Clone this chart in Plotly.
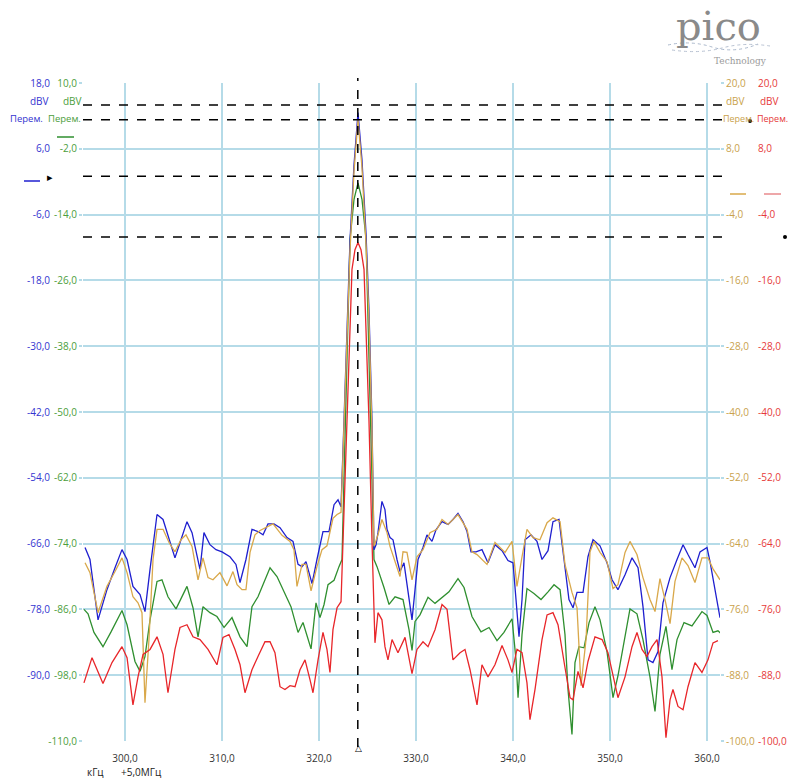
import plotly.graph_objects as go

# ---------------- data (frequency offset in kHz, level in dBV) ----------------
blue_khz = [
    295.88, 296.39, 297.22, 298.14, 298.97, 299.69, 300.21, 300.82, 301.55, 302.06,
    302.58, 303.30, 303.92, 304.54, 305.15, 305.77, 306.39, 306.91, 307.73, 308.14,
    308.76, 309.38, 310.00, 310.82, 311.44, 311.86, 312.47, 313.09, 313.71, 314.23,
    314.74, 315.36, 315.98, 316.70, 317.32, 317.84, 318.25, 318.66, 319.28, 319.79,
    320.41, 321.03, 321.55, 321.96, 322.27, 322.58, 322.89, 323.20, 323.61, 324.02,
    324.43, 324.85, 325.15, 325.46, 325.67, 325.88, 326.08, 326.49, 326.80, 327.01,
    327.32, 327.63, 328.04, 328.35, 328.76, 329.18, 329.59, 329.90, 330.21, 330.72,
    331.13, 331.65, 332.06, 332.68, 333.30, 333.81, 334.33, 334.85, 335.26, 335.67,
    336.19, 336.80, 337.42, 338.14, 338.87, 339.48, 340.00, 340.31, 340.62, 340.93,
    341.24, 341.86, 342.47, 342.99, 343.61, 344.12, 344.74, 345.26, 345.77, 346.19,
    346.60, 347.22, 347.73, 348.25, 348.97, 349.69, 350.21, 350.82, 351.55, 352.27,
    352.89, 353.40, 353.92, 354.43, 354.95, 355.46, 356.19, 356.91, 357.53, 358.04,
    358.76, 359.28, 360.00, 360.31, 360.82, 361.34]
blue_dbv = [
    -66.7, -68.9, -79.9, -74.4, -70.4, -67.1, -68.9, -73.8, -75.3, -78.4,
    -70.7, -60.7, -61.6, -65.3, -68.6, -65.3, -62.0, -64.0, -70.7, -64.0,
    -66.2, -67.1, -67.5, -68.4, -69.8, -73.1, -68.9, -63.4, -63.8, -64.4,
    -62.4, -62.4, -63.1, -64.9, -65.6, -69.8, -70.2, -69.3, -73.3, -68.9,
    -63.8, -63.8, -58.9, -58.0, -59.3, -43.4, -25.1, -10.6, 3.1, 12.6,
    4.0, -9.6, -23.3, -43.4, -67.1, -66.2, -64.0, -58.3, -59.8, -63.4,
    -64.9, -65.3, -68.9, -71.1, -69.5, -74.4, -79.9, -74.4, -68.9, -66.7,
    -64.4, -65.6, -63.5, -62.0, -62.5, -61.6, -60.5, -62.0, -63.8, -67.5,
    -67.5, -67.1, -69.5, -66.2, -67.3, -69.1, -69.5, -76.2, -83.0, -76.2,
    -65.3, -64.4, -65.6, -68.9, -67.3, -62.0, -61.6, -68.9, -76.2, -77.7,
    -74.9, -74.9, -68.4, -65.3, -66.4, -69.5, -72.6, -74.4, -71.7, -68.6,
    -70.4, -77.5, -87.2, -87.7, -85.7, -76.8, -72.2, -68.9, -66.2, -68.0,
    -70.4, -67.5, -66.7, -69.3, -74.4, -79.5]

gold_khz = [
    295.88, 296.39, 297.22, 298.14, 298.97, 299.69, 300.21, 300.82, 301.34, 301.75,
    302.06, 302.47, 302.89, 303.30, 303.92, 304.54, 305.15, 305.77, 306.29, 306.91,
    307.53, 308.04, 308.56, 309.07, 309.79, 310.52, 311.13, 311.55, 312.06, 312.47,
    312.89, 313.40, 313.92, 314.64, 315.26, 316.19, 317.01, 317.42, 317.73, 318.25,
    318.66, 319.18, 319.79, 320.31, 320.82, 321.44, 321.86, 322.27, 322.58, 322.89,
    323.20, 323.61, 324.02, 324.43, 324.85, 325.15, 325.46, 325.67, 326.08, 326.49,
    327.01, 327.32, 327.84, 328.35, 328.66, 329.07, 329.59, 330.10, 330.72, 331.44,
    332.16, 332.68, 333.30, 334.33, 335.26, 335.77, 336.29, 337.32, 338.14, 339.18,
    339.90, 340.41, 340.93, 341.44, 342.06, 342.78, 343.51, 344.12, 344.85, 345.36,
    346.08, 346.60, 347.01, 347.53, 347.94, 348.35, 348.97, 349.69, 350.31, 350.82,
    351.55, 352.06, 352.78, 353.40, 354.12, 354.64, 355.15, 355.67, 356.19, 356.70,
    357.42, 358.04, 358.76, 359.48, 360.10, 360.62, 361.34]
gold_dbv = [
    -67.5, -69.3, -76.6, -71.8, -69.1, -66.6, -69.3, -73.7, -74.8, -76.6,
    -93.0, -81.5, -66.9, -61.4, -61.4, -63.8, -65.5, -63.3, -62.4, -64.5,
    -70.6, -66.6, -70.2, -70.6, -69.3, -71.7, -69.1, -71.5, -72.4, -72.4,
    -65.6, -62.4, -61.6, -60.9, -60.4, -62.5, -63.6, -65.1, -71.8, -67.8,
    -67.8, -72.6, -68.2, -65.1, -64.4, -59.4, -58.7, -58.3, -43.2, -25.0,
    -10.4, 3.9, 13.3, 4.6, -9.5, -23.1, -43.2, -64.5, -62.4, -59.6,
    -62.0, -64.5, -67.5, -70.0, -65.5, -65.6, -70.6, -66.4, -65.1, -62.0,
    -61.4, -59.6, -60.5, -58.7, -61.4, -65.5, -66.0, -67.8, -63.8, -65.6,
    -63.6, -71.8, -66.4, -61.4, -62.9, -63.3, -60.2, -59.3, -60.0, -67.8,
    -72.9, -75.7, -89.9, -81.5, -65.5, -63.6, -65.6, -67.3, -72.2, -71.5,
    -65.6, -63.6, -66.0, -70.2, -74.2, -76.4, -70.4, -74.2, -78.6, -70.9,
    -66.6, -68.0, -71.1, -66.6, -66.6, -68.6, -70.6]

green_khz = [
    295.77, 296.19, 296.80, 297.73, 298.56, 299.69, 300.21, 301.03, 301.55, 302.06,
    302.58, 303.30, 303.81, 304.43, 305.26, 306.39, 307.01, 307.53, 308.04, 308.76,
    309.48, 310.21, 311.03, 311.86, 312.58, 313.09, 313.71, 314.43, 314.95, 315.67,
    316.39, 317.11, 317.84, 318.35, 319.18, 319.69, 320.10, 320.52, 320.93, 321.55,
    322.06, 322.37, 322.78, 323.20, 323.61, 324.02, 324.43, 324.85, 325.26, 325.67,
    325.98, 326.29, 326.70, 327.22, 327.84, 328.66, 329.28, 329.59, 329.90, 330.41,
    331.24, 331.96, 332.68, 333.40, 334.33, 334.95, 335.77, 336.70, 337.53, 338.35,
    339.07, 339.90, 340.31, 340.52, 340.93, 341.44, 342.16, 342.89, 343.61, 344.23,
    344.85, 345.36, 345.67, 346.08, 346.39, 346.80, 347.32, 347.84, 348.45, 348.97,
    349.69, 350.31, 350.82, 351.44, 352.06, 352.78, 353.40, 354.12, 354.64, 355.15,
    355.77, 356.39, 356.91, 357.63, 358.45, 359.48, 360.00, 360.62, 361.13, 361.44]
green_dbv = [
    -86.0, -86.8, -90.2, -92.8, -90.1, -86.2, -88.8, -95.5, -97.3, -94.6,
    -87.9, -80.9, -80.6, -83.7, -85.9, -81.8, -85.7, -91.0, -85.5, -86.6,
    -87.3, -89.3, -87.5, -91.0, -92.8, -85.5, -83.7, -80.6, -78.4, -80.0,
    -82.8, -85.5, -90.2, -88.4, -93.2, -84.8, -87.5, -85.1, -81.5, -80.7,
    -78.2, -76.9, -47.7, -18.5, -11.2, -8.2, -11.2, -18.5, -47.7, -76.9,
    -78.2, -79.7, -82.0, -85.1, -83.7, -84.2, -89.7, -93.5, -88.2, -87.0,
    -83.8, -84.9, -83.8, -82.8, -80.4, -82.0, -87.3, -90.1, -89.3, -91.7,
    -90.2, -87.7, -95.2, -102.1, -90.6, -82.2, -83.1, -84.2, -82.8, -81.5,
    -82.4, -90.6, -100.6, -108.8, -95.7, -92.8, -93.0, -88.4, -85.5, -87.9,
    -93.7, -102.1, -98.1, -92.1, -85.9, -86.8, -91.5, -98.3, -104.6, -94.2,
    -89.1, -97.0, -91.5, -88.4, -89.0, -86.4, -87.1, -90.2, -89.9, -90.4]

red_khz = [
    295.77, 296.60, 297.73, 298.66, 299.69, 300.21, 300.82, 301.34, 301.86, 302.58,
    303.30, 303.92, 304.43, 305.15, 305.67, 306.39, 307.01, 307.73, 308.56, 309.48,
    310.10, 310.72, 311.34, 311.86, 312.37, 313.09, 313.71, 314.43, 314.95, 315.46,
    315.98, 316.49, 317.01, 317.53, 318.04, 318.56, 319.07, 319.38, 319.90, 320.41,
    320.82, 321.13, 321.44, 321.86, 322.27, 322.58, 322.89, 323.40, 323.71, 324.02,
    324.33, 324.64, 325.15, 325.46, 325.77, 326.08, 326.49, 326.80, 327.11, 327.53,
    328.14, 328.87, 329.59, 330.10, 330.72, 331.24, 331.96, 332.68, 333.20, 333.81,
    334.54, 335.05, 335.57, 336.29, 336.80, 337.42, 338.14, 338.87, 339.48, 339.90,
    340.41, 340.93, 341.44, 341.75, 342.27, 342.99, 343.51, 344.12, 344.64, 345.36,
    345.88, 346.19, 346.70, 347.22, 347.73, 348.45, 349.18, 349.79, 350.52, 350.82,
    351.55, 352.27, 352.78, 353.30, 353.81, 354.33, 354.85, 355.36, 355.77, 356.19,
    356.49, 357.01, 357.53, 358.04, 358.76, 359.48, 360.10, 360.62, 361.13]
red_dbv = [
    -89.4, -84.8, -89.5, -85.7, -82.8, -84.8, -93.4, -88.3, -84.2, -83.3,
    -81.0, -84.2, -91.2, -83.3, -79.3, -78.8, -81.0, -81.5, -83.3, -86.1,
    -81.1, -80.6, -83.3, -86.1, -91.2, -87.0, -84.6, -81.9, -81.9, -83.9,
    -90.1, -90.6, -89.9, -90.1, -87.0, -85.2, -88.8, -91.2, -85.2, -80.2,
    -83.3, -87.5, -79.7, -75.7, -74.6, -59.6, -41.4, -14.0, -10.4, -9.1,
    -10.4, -14.0, -41.4, -63.3, -82.1, -76.6, -77.9, -82.8, -85.2, -81.5,
    -83.9, -81.1, -87.7, -83.3, -81.9, -82.8, -79.7, -75.1, -76.0, -85.2,
    -83.9, -83.3, -87.0, -93.4, -86.1, -88.3, -86.1, -82.6, -85.2, -87.5,
    -83.3, -83.9, -89.4, -96.1, -90.6, -81.5, -77.0, -76.6, -78.8, -86.6,
    -92.1, -92.5, -87.3, -90.3, -85.5, -81.0, -81.5, -83.9, -89.4, -92.1,
    -88.3, -82.8, -80.2, -83.3, -84.6, -82.8, -81.5, -88.3, -99.4, -92.5,
    -90.6, -93.7, -94.3, -90.1, -85.7, -87.5, -85.2, -82.1, -81.7]

# axis ticks
x_ticks = [300, 310, 320, 330, 340, 350, 360]
blue_ticks = [18, 6, -6, -18, -30, -42, -54, -66, -78, -90]
green_ticks = [10, -2, -14, -26, -38, -50, -62, -74, -86, -98, -110]
gold_ticks = [20, 8, -4, -16, -28, -40, -52, -64, -76, -88, -100]
red_ticks = [20, 8, -4, -16, -28, -40, -52, -64, -76, -88, -100]

# cursor positions
marker_khz = 324.0
ruler_levels_green = [6.0, 3.3, -7.0, -18.1]


def lab(v):
    return f"{v:.1f}".replace(".", ",")


# ---------------- style ----------------
W, H = 788, 783
L, R, T, B = 83, 720, 83, 741           # plot area in pixels
BLUE, GREEN, GOLD, RED = "#1f1fcf", "#2f8f2f", "#d9a84a", "#e8262a"
BLUE_T, GREEN_T, GOLD_T, RED_T = "#3434d0", "#4c9e3c", "#c9a24c", "#e63a3a"
GRID = "#b5dbe8"
FONT = "Open Sans"


def px(xp):
    return xp / W


def py(yp):
    return (B - yp) / (B - T)


fig = go.Figure()
fig.add_trace(go.Scatter(x=gold_khz, y=gold_dbv, yaxis="y3", mode="lines",
                         line=dict(color=GOLD, width=1.3)))
fig.add_trace(go.Scatter(x=green_khz, y=green_dbv, yaxis="y", mode="lines",
                         line=dict(color=GREEN, width=1.3)))
fig.add_trace(go.Scatter(x=red_khz, y=red_dbv, yaxis="y4", mode="lines",
                         line=dict(color=RED, width=1.3)))
fig.add_trace(go.Scatter(x=blue_khz, y=blue_dbv, yaxis="y2", mode="lines",
                         line=dict(color=BLUE, width=1.3)))

tf = dict(family=FONT, size=10)
fig.update_layout(
    width=W, height=H, showlegend=False,
    paper_bgcolor="white", plot_bgcolor="white",
    margin=dict(l=0, r=0, t=T, b=H - B, autoexpand=False),
    font=dict(family=FONT, size=10, color="#333"),
    xaxis=dict(domain=[px(L), px(R)], range=[295.67, 361.34],
               tickvals=x_ticks, ticktext=[lab(v) for v in x_ticks],
               showgrid=True, gridcolor=GRID, gridwidth=1.5, zeroline=False,
               showline=False, ticks="outside", ticklen=8,
               tickcolor="rgba(0,0,0,0)", tickfont=dict(tf, color="#333")),
    yaxis=dict(range=[-110, 10], tickvals=green_ticks,
               ticktext=[lab(v) for v in green_ticks], side="left", anchor="x",
               showgrid=True, gridcolor=GRID, gridwidth=1.5, zeroline=False,
               ticks="outside", ticklen=3, tickcolor=GRID, tickwidth=1.5,
               tickfont=dict(tf, color=GREEN_T)),
    yaxis2=dict(range=[-102, 18], overlaying="y", anchor="free", side="left",
                position=px(50), tickvals=blue_ticks,
                ticktext=[lab(v) for v in blue_ticks], showgrid=False,
                zeroline=False, showline=False, ticks="",
                tickfont=dict(tf, color=BLUE_T)),
    yaxis3=dict(range=[-100, 20], overlaying="y", anchor="x", side="right",
                tickvals=gold_ticks, ticktext=[lab(v) for v in gold_ticks],
                showgrid=False, zeroline=False, showline=False,
                ticks="outside", ticklen=3, tickcolor=GRID, tickwidth=1.5,
                tickfont=dict(tf, color=GOLD_T)),
    yaxis4=dict(range=[-100, 20], overlaying="y", anchor="free", side="right",
                position=px(757), tickvals=red_ticks,
                ticktext=[lab(v) for v in red_ticks], showgrid=False,
                zeroline=False, showline=False, ticks="",
                tickfont=dict(tf, color=RED_T)),
)

shapes = []
for lvl in ruler_levels_green:
    shapes.append(dict(type="line", xref="paper", yref="y", x0=px(L), x1=px(R + 2),
                       y0=lvl, y1=lvl, line=dict(color="black", width=1.5, dash="dash")))
shapes.append(dict(type="line", xref="x", yref="paper", x0=marker_khz, x1=marker_khz,
                   y0=py(747), y1=py(78), line=dict(color="black", width=1.5, dash="dash")))
# channel offset markers
for (x0, x1, yy, c) in [(24, 40, 181, BLUE), (57, 74, 137, GREEN),
                        (730, 746, 194, GOLD), (764, 781, 194, "#e88a8c")]:
    shapes.append(dict(type="line", xref="paper", yref="paper", x0=px(x0), x1=px(x1),
                       y0=py(yy), y1=py(yy), line=dict(color=c, width=1.5)))
# small black cursor dots
for (cx, cy) in [(750, 121), (785, 237)]:
    shapes.append(dict(type="circle", xref="paper", yref="paper",
                       x0=px(cx - 2), x1=px(cx + 2), y0=py(cy + 2), y1=py(cy - 2),
                       fillcolor="black", line=dict(width=0)))
# decorative wave in the logo
wave = "M {} {} Q {} {} {} {} T {} {}".format(
    px(668), py(45), px(690), py(40), px(712), py(47), px(758), py(44))
shapes.append(dict(type="path", xref="paper", yref="paper", path=wave,
                   line=dict(color="#aab8cc", width=1, dash="dot")))
wave2 = "M {} {} Q {} {} {} {} T {} {}".format(
    px(672), py(50), px(700), py(54), px(722), py(48), px(770), py(46))
shapes.append(dict(type="path", xref="paper", yref="paper", path=wave2,
                   line=dict(color="#b8c2d2", width=1, dash="dot")))
fig.update_layout(shapes=shapes)

ann = []


def text(t, x, y, color, size=10, xanchor="center", family=FONT):
    ann.append(dict(text=t, x=px(x), y=py(y), xref="paper", yref="paper",
                    showarrow=False, xanchor=xanchor, yanchor="middle",
                    font=dict(family=family, size=size, color=color)))


text("dBV", 39, 101, BLUE_T)
text("dBV", 72, 101, GREEN_T)
text("Перем.", 8, 118, BLUE_T, size=9.5, xanchor="left")
text("Перем.", 46, 118, GREEN_T, size=9.5, xanchor="left")
text("dBV", 735, 101, GOLD_T)
text("dBV", 769, 101, RED_T)
text("Перем.", 721, 119, GOLD_T, size=9, xanchor="left")
text("Перем.", 755, 119, RED_T, size=9, xanchor="left")
text("▸", 50, 176, "black", size=11)
text("△", 358, 747, "black", size=9)
text("кГц", 95, 772, "#222", size=10)
text("+5,0МГц", 141, 772, "#222", size=10)
text("pico", 718, 26, "#8a8a8a", size=40, family="DejaVu Serif")
text("Technology", 740, 61, "#9a9a9a", size=9, family="DejaVu Serif")
fig.update_layout(annotations=ann)

fig.write_html("out.html", config={"displayModeBar": False})
